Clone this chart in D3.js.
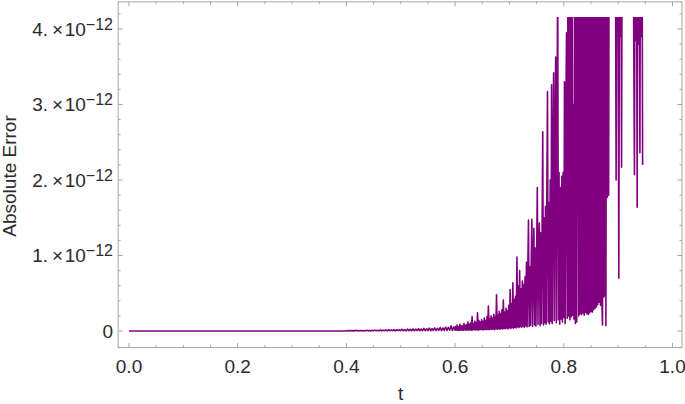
<!DOCTYPE html>
<html><head><meta charset="utf-8">
<script src="https://cdn.jsdelivr.net/npm/d3@7"></script>
<style>
body{margin:0;background:#fff}
text{font-family:"Liberation Sans",Arial,Helvetica,sans-serif}
</style>
</head><body>
<svg id="chart" width="685" height="404"></svg>
<script>
// ---- data: absolute error in units of 1e-12 ----
// early part: t = 0 ... 0.5975, step 0.0025
const earlyStart = 0;
const earlyStep = 0.0025;
const earlyErrors = [
  0,0,0,0,0,0,0,0,0,0,0,0,0,0,0,0,0,0,0,0,
  0,0,0,0,0,0,0,0,0,0,0,0,0,0,0,0,0,0,0,0,
  0,0,0,0,0,0,0,0,0,0,0,0,0,0,0,0,0,0,0,0,
  0,0,0,0,0,0,0,0,0,0,0,0,0,0,0,0,0,0,0,0,
  0,0,0,0,0,0,0,0,0,0,0,0,0,0,0,0,0,0,0,0,
  0,0,0,0,0,0,0,0,0,0,0,0,0,0,0,0,0,0,0,0,
  0,0,0,0,0,0,0,0,0,0,0,0,0,0,0,0,0,0,0,0,
  0,0,0,0,0,0,0,0,0,0,0,0,0,0,0,0,0,0,0,0,
  0.001, 0.006, 0.002, 0.008, 0.001, 0.005, 0.002, 0.009, 0.001, 0.007,
  0.002, 0.008, 0.001, 0.006, 0.003, 0.010, 0.002, 0.008, 0.001, 0.009,
  0.002, 0.012, 0.003, 0.010, 0.002, 0.014, 0.001, 0.011, 0.003, 0.015,
  0.002, 0.018, 0.004, 0.013, 0.003, 0.020, 0.002, 0.016, 0.005, 0.019,
  0.003, 0.022, 0.004, 0.017, 0.002, 0.025, 0.005, 0.021, 0.003, 0.027,
  0.004, 0.024, 0.006, 0.030, 0.003, 0.026, 0.005, 0.034, 0.004, 0.029,
  0.006, 0.037, 0.004, 0.032, 0.007, 0.041, 0.005, 0.036, 0.008, 0.046,
  0.006, 0.040, 0.009, 0.052, 0.007, 0.047, 0.010, 0.068, 0.008, 0.055
];
// late part: t = 0.6 ... 0.945, step 0.00125
const lateStart = 0.6;
const lateStep = 0.00125;
const lateErrors = [
  0.010, 0.060, 0.015, 0.080, 0.008, 0.055, 0.012, 0.090, 0.010, 0.070,
  0.014, 0.065, 0.009, 0.100, 0.016, 0.075, 0.011, 0.085, 0.013, 0.120,
  0.010, 0.090, 0.018, 0.110, 0.012, 0.190, 0.015, 0.095, 0.020, 0.130,
  0.014, 0.110, 0.017, 0.240, 0.012, 0.140, 0.022, 0.120, 0.016, 0.150,
  0.020, 0.130, 0.015, 0.170, 0.024, 0.140, 0.018, 0.190, 0.022, 0.330,
  0.016, 0.160, 0.026, 0.200, 0.020, 0.170, 0.028, 0.220, 0.018, 0.190,
  0.030, 0.480, 0.024, 0.210, 0.032, 0.260, 0.022, 0.230, 0.035, 0.280,
  0.026, 0.410, 0.038, 0.250, 0.030, 0.300, 0.040, 0.270, 0.028, 0.340,
  0.045, 0.550, 0.032, 0.360, 0.048, 0.640, 0.036, 0.420, 0.050, 0.460,
  0.040, 0.980, 0.055, 0.600, 0.045, 0.800, 0.060, 0.560, 0.050, 0.660,
  0.065, 0.620, 0.048, 0.720, 0.070, 0.910, 0.055, 0.780, 1.470, 0.060,
  0.850, 0.075, 0.900, 1.480, 0.060, 0.950, 1.360, 0.080, 1.100, 0.065,
  1.000, 1.900, 0.090, 1.200, 1.430, 0.070, 1.300, 0.100, 1.250, 2.640,
  0.080, 1.500, 0.110, 1.650, 0.090, 1.800, 3.170, 0.120, 1.700, 0.095,
  2.000, 0.130, 3.260, 0.100, 2.200, 3.420, 0.140, 2.400, 3.630, 0.110,
  2.600, 4.900, 0.150, 2.100, 0.090, 1.900, 0.160, 2.050, 0.120, 2.100,
  0.180, 3.300, 0.100, 2.800, 3.950, 0.170, 4.500, 0.200, 5.200, 0.150,
  5.800, 0.190, 6.000, 0.210, 3.000, 0.160, 6.200, 0.100, 5.500, 0.120,
  6.300, 3.900, 0.200, 6.000, 0.230, 6.600, 0.220, 5.900, 0.240, 6.400,
  0.210, 6.800, 0.250, 6.100, 0.230, 7.000, 0.220, 6.500, 0.240, 6.900,
  0.260, 6.200, 0.250, 7.100, 0.280, 6.700, 0.300, 6.400, 0.320, 7.200,
  0.350, 6.600, 0.380, 7.000, 0.340, 6.800, 0.400, 0.080, 6.900, 0.450,
  0.500, 7.100, 0.070, 6.700, 1.770, 6.500, 1.800, 6.800, 5.000, 6.200,
  4.800, 6.500, 5.100, 6.000, 4.700, 6.300, 5.200, 2.000, 6.100, 5.400,
  3.800, 0.700, 5.600, 3.900, 6.000, 2.170, 5.800, 6.400, 4.900, 6.200,
  5.000, 6.600, 4.800, 6.300, 5.100, 6.700, 4.900, 6.100, 5.300, 6.500,
  4.700, 6.200, 5.600, 3.800, 2.070, 5.900, 3.850, 5.700, 1.640, 6.000,
  3.800, 5.800, 2.360, 6.100, 3.900, 6.300, 2.200
];
const xTicks = [0, 0.2, 0.4, 0.6, 0.8, 1.0];
const xTickLabels = ["0.0", "0.2", "0.4", "0.6", "0.8", "1.0"];
const xMinorTicks = [0.05,0.1,0.15,0.25,0.3,0.35,0.45,0.5,0.55,0.65,0.7,0.75,0.85,0.9,0.95];
const yTicks = [0, 1, 2, 3, 4];
const yTickMantissas = ["0", "1.", "2.", "3.", "4."];
const yExponent = "\u221212";
const yMinorTicks = [0.2,0.4,0.6,0.8,1.2,1.4,1.6,1.8,2.2,2.4,2.6,2.8,3.2,3.4,3.6,3.8,4.2];
const plotRangeMax = 4.16;
const xLabel = "t";
const yLabel = "Absolute Error";

// ---- scales ----
const x = d3.scaleLinear().domain([0, 1]).range([129, 672.5]);
const y = d3.scaleLinear().domain([0, 4]).range([331, 29]);
const frameX = [-0.02, 1.0175];
const frameY = [-0.22, 4.36];

const svg = d3.select("#chart");
const frameColor = "#a6a6a6";
const textColor = "#2b2b2b";

const fx0 = x(frameX[0]), fx1 = x(frameX[1]);
const fy0 = y(frameY[0]), fy1 = y(frameY[1]);

svg.append("defs").append("clipPath").attr("id", "clip")
  .append("rect")
  .attr("x", fx0).attr("y", y(plotRangeMax))
  .attr("width", fx1 - fx0).attr("height", fy0 - y(plotRangeMax));

const data = earlyErrors.map((v, i) => ({ t: earlyStart + i * earlyStep, v }))
  .concat(lateErrors.map((v, i) => ({ t: lateStart + i * lateStep, v })));

svg.append("path")
  .datum(data)
  .attr("clip-path", "url(#clip)")
  .attr("fill", "none")
  .attr("stroke", "#800080")
  .attr("stroke-width", 1.6)
  .attr("stroke-linejoin", "round")
  .attr("d", d3.line().x(d => x(d.t)).y(d => y(d.v)));

// frame
svg.append("rect")
  .attr("x", fx0).attr("y", fy1)
  .attr("width", fx1 - fx0).attr("height", fy0 - fy1)
  .attr("fill", "none").attr("stroke", frameColor).attr("stroke-width", 1);

const majorLen = 4.5, minorLen = 2.5;
const tickG = svg.append("g").attr("stroke", frameColor).attr("stroke-width", 1);
xTicks.concat(xMinorTicks).forEach(t => {
  const len = xTicks.includes(t) ? majorLen : minorLen;
  tickG.append("line").attr("x1", x(t)).attr("x2", x(t)).attr("y1", fy0).attr("y2", fy0 - len);
  tickG.append("line").attr("x1", x(t)).attr("x2", x(t)).attr("y1", fy1).attr("y2", fy1 + len);
});
yTicks.concat(yMinorTicks).forEach(v => {
  const len = yTicks.includes(v) ? majorLen : minorLen;
  tickG.append("line").attr("x1", fx0).attr("x2", fx0 + len).attr("y1", y(v)).attr("y2", y(v));
  tickG.append("line").attr("x1", fx1).attr("x2", fx1 - len).attr("y1", y(v)).attr("y2", y(v));
});

// x tick labels
svg.append("g").selectAll("text").data(xTicks).join("text")
  .attr("x", d => x(d)).attr("y", 373.3)
  .attr("text-anchor", "middle")
  .attr("font-size", 19).attr("fill", textColor)
  .text((d, i) => xTickLabels[i]);

// y tick labels
svg.append("g").selectAll("text").data(yTicks).join("text")
  .attr("x", 113).attr("y", d => y(d) + 6.6)
  .attr("text-anchor", "end")
  .attr("font-size", 19).attr("fill", textColor)
  .each(function(d, i) {
    const t = d3.select(this);
    if (d === 0) { t.text(yTickMantissas[i]); return; }
    t.append("tspan").text(yTickMantissas[i]);
    t.append("tspan").attr("dx", 4).text("\u00d7");
    t.append("tspan").attr("dx", 1.5).text("10");
    t.append("tspan").attr("dy", -5.7).attr("font-size", 16).text(yExponent);
  });

svg.append("text").attr("x", x(0.5)).attr("y", 400)
  .attr("text-anchor", "middle").attr("font-size", 19).attr("fill", textColor)
  .text(xLabel);
svg.append("text")
  .attr("transform", "translate(15.5,176) rotate(-90)")
  .attr("text-anchor", "middle").attr("font-size", 19).attr("fill", textColor)
  .text(yLabel);
</script>
</body></html>
